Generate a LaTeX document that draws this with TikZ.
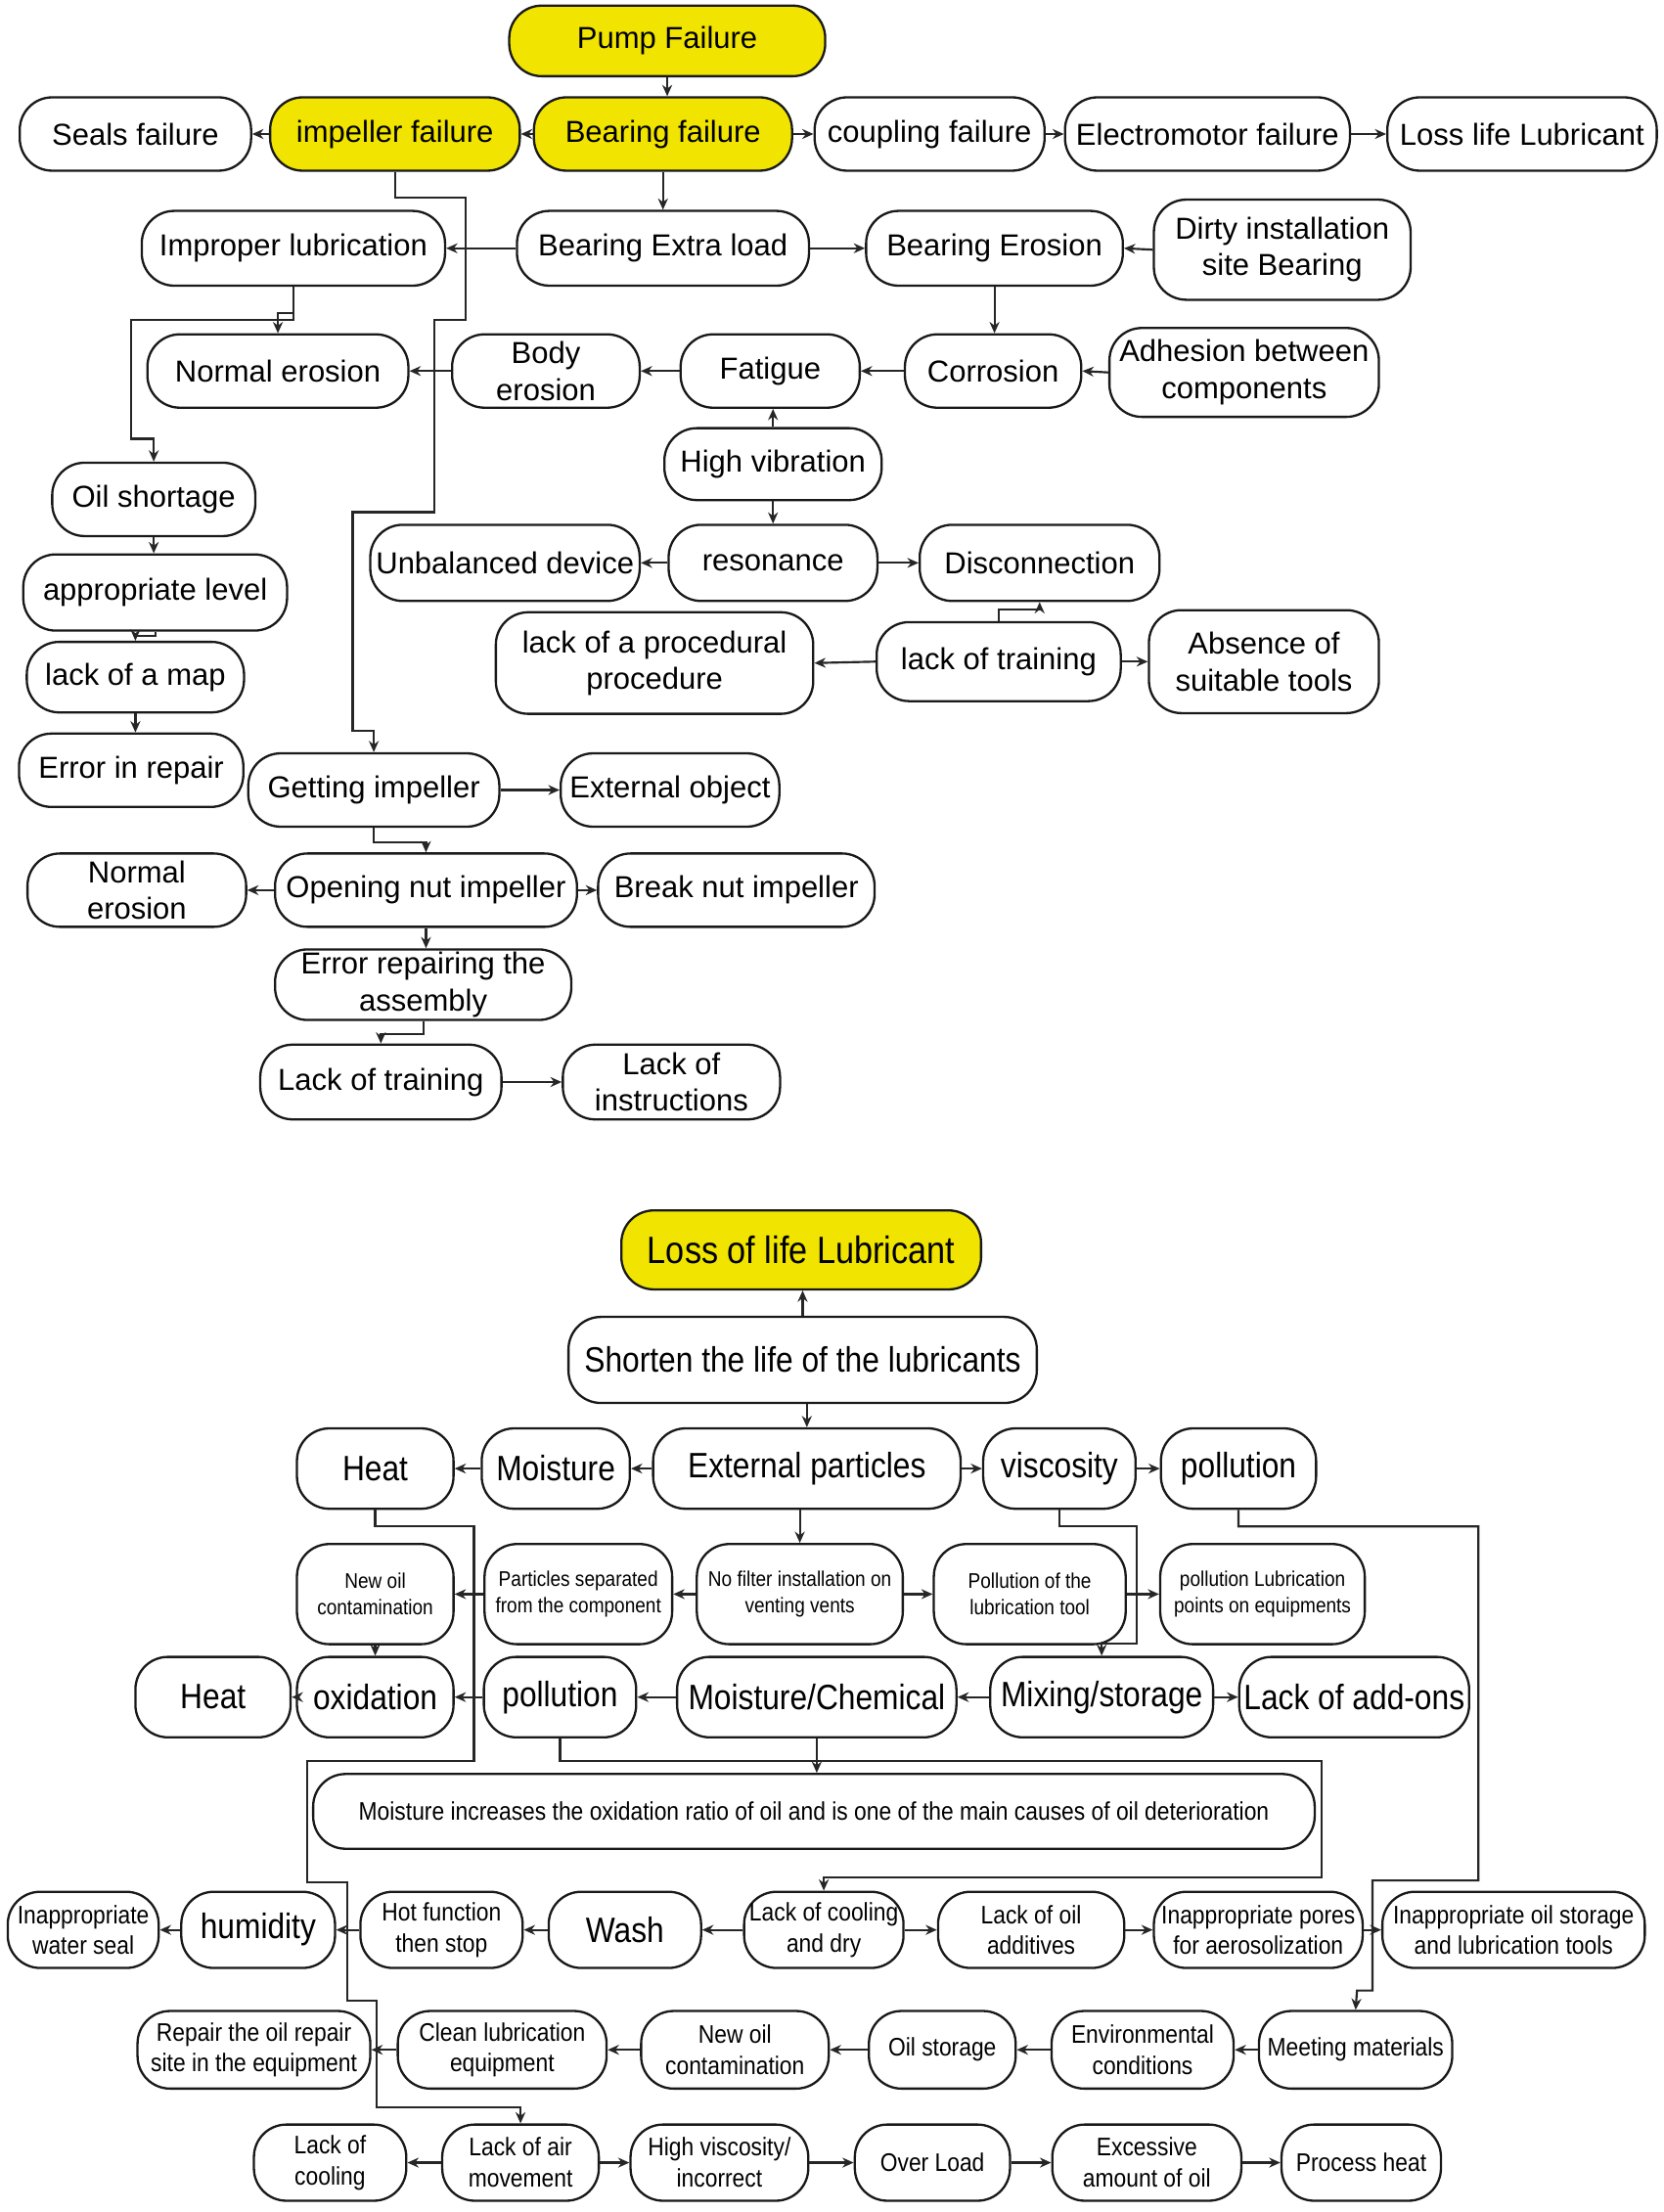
\documentclass[tikz,border=0pt]{standalone}
\usepackage{fontspec}
\setmainfont{Liberation Sans}
\newfontfamily\narrowfam[FakeStretch=0.88]{Liberation Sans}
\usetikzlibrary{arrows.meta}
\definecolor{pumpyellow}{RGB}{240,228,0}
\newcommand\ftTop{\fontsize{21.5}{26}\selectfont}
\newcommand\ftYel{\narrowfam\fontsize{27}{30}\selectfont}
\newcommand\ftBig{\narrowfam\fontsize{25}{28}\selectfont}
\newcommand\ftMid{\narrowfam\fontsize{18}{22}\selectfont}
\newcommand\ftSml{\narrowfam\fontsize{15}{19}\selectfont}
\tikzset{
  nd/.style={draw=black!90, line width=1.6pt, rounded corners=23pt, fill=white, inner sep=0pt},
  txt/.style={inner sep=0pt, align=center, text=black},
  ar/.style={draw=black!85, line width=1.5pt, -{Stealth[length=8pt,width=7pt]}},
}
\newcommand\bx[7]{%
  \node[nd, minimum width=#5pt, minimum height=#6pt] (#2) at (#3,#4) {};
  \node[txt, font=#1] (#2-t) at (#3,#4) {#7};}
\newcommand\ybx[7]{%
  \node[nd, fill=pumpyellow, minimum width=#5pt, minimum height=#6pt] (#2) at (#3,#4) {};
  \node[txt, font=#1] (#2-t) at (#3,#4) {#7};}
\begin{document}
\begin{tikzpicture}[x=1pt, y=-1pt]
\fill[white] (0,0) rectangle (1179,1568);
\useasboundingbox (0,0) rectangle (1179,1568);
% ---------------- top diagram ----------------
\ybx{\ftTop}{pump}{473}{29}{224}{50}{Pump Failure}
\bx{\ftTop}{seals}{96}{95}{164}{52}{Seals failure}
\ybx{\ftTop}{impf}{280}{95}{177}{52}{impeller failure}
\ybx{\ftTop}{bearf}{470}{95}{183}{52}{Bearing failure}
\bx{\ftTop}{coup}{659}{95}{163}{52}{coupling failure}
\bx{\ftTop}{elec}{856}{95}{202}{52}{Electromotor failure}
\bx{\ftTop}{llub}{1079}{95}{191}{52}{Loss life Lubricant}
\bx{\ftTop}{improper}{208}{176}{215}{53}{Improper lubrication}
\bx{\ftTop}{bextra}{470}{176}{207}{53}{Bearing Extra load}
\bx{\ftTop}{berosion}{705}{176}{182}{53}{Bearing Erosion}
\bx{\ftTop}{dirty}{909}{177}{182}{71}{Dirty installation\\site Bearing}
\bx{\ftTop}{normal1}{197}{263}{185}{52}{Normal erosion}
\bx{\ftTop}{body}{387}{263}{133}{52}{Body\\erosion}
\bx{\ftTop}{fatigue}{546}{263}{127}{52}{Fatigue}
\bx{\ftTop}{corrosion}{704}{263}{125}{52}{Corrosion}
\bx{\ftTop}{adhesion}{882}{264}{191}{63}{Adhesion between\\components}
\bx{\ftTop}{hvib}{548}{329}{154}{51}{High vibration}
\bx{\ftTop}{oilsh}{109}{354}{144}{52}{Oil shortage}
\bx{\ftTop}{unbal}{358}{399}{191}{54}{Unbalanced device}
\bx{\ftTop}{reson}{548}{399}{148}{54}{resonance}
\bx{\ftTop}{disc}{737}{399}{170}{54}{Disconnection}
\bx{\ftTop}{applev}{110}{420}{187}{54}{appropriate level}
\bx{\ftTop}{lproc}{464}{470}{225}{72}{lack of a procedural\\procedure}
\bx{\ftTop}{ltrain}{708}{469}{173}{56}{lack of training}
\bx{\ftTop}{absence}{896}{469}{163}{73}{Absence of\\suitable tools}
\bx{\ftTop}{lmap}{96}{480}{154}{50}{lack of a map}
\bx{\ftTop}{errrep}{93}{546}{159}{52}{Error in repair}
\bx{\ftTop}{getimp}{265}{560}{178}{52}{Getting impeller}
\bx{\ftTop}{extobj}{475}{560}{155}{52}{External object}
\bx{\ftTop}{normal2}{97}{631}{155}{52}{Normal\\erosion}
\bx{\ftTop}{opennut}{302}{631}{214}{52}{Opening nut impeller}
\bx{\ftTop}{breaknut}{522}{631}{196}{52}{Break nut impeller}
\bx{\ftTop}{errasm}{300}{698}{210}{50}{Error repairing the\\assembly}
\bx{\ftTop}{ltrain2}{270}{767}{171}{53}{Lack of training}
\bx{\ftTop}{linstr}{476}{767}{154}{53}{Lack of\\instructions}
% top connectors
\draw[ar] (pump.south) -- (pump.south |- bearf.north);
\draw[ar] (bearf.west) -- (impf.east);
\draw[ar] (impf.west) -- (seals.east);
\draw[ar] (bearf.east) -- (coup.west);
\draw[ar] (coup.east) -- (elec.west);
\draw[ar] (elec.east) -- (llub.west);
\draw[ar] (bearf.south) -- (bextra.north);
\draw[ar] (bextra.west) -- (improper.east);
\draw[ar] (bextra.east) -- (berosion.west);
\draw[ar] (dirty.west) -- (berosion.east);
\draw[ar] (berosion.south) -- (berosion.south |- corrosion.north);
\draw[ar] (adhesion.west) -- (corrosion.east);
\draw[ar] (corrosion.west) -- (fatigue.east);
\draw[ar] (fatigue.west) -- (body.east);
\draw[ar] (body.west) -- (normal1.east);
\draw[ar] (hvib.north) -- (hvib.north |- fatigue.south);
\draw[ar] (hvib.south) -- (hvib.south |- reson.north);
\draw[ar] (reson.west) -- (unbal.east);
\draw[ar] (reson.east) -- (disc.west);
\draw[ar] (ltrain.north) |- (737,432) -- (disc.south);
\draw[ar] (ltrain.west) -- (lproc.east);
\draw[ar] (ltrain.east) -- (absence.west);
\draw[ar] (impf.south) |- (330,140) |- (308,227) |- (250,363) |- (265,518) -- (getimp.north);
\draw[ar] (improper.south) |- (197,222) -- (normal1.north);
\draw[ar] (improper.south) |- (93,227) |- (109,311) -- (oilsh.north);
\draw[ar] (oilsh.south) -- (oilsh.south |- applev.north);
\draw[ar] (applev.south) |- (96,451) -- (lmap.north);
\draw[ar] (lmap.south) -- (lmap.south |- errrep.north);
\draw[ar] (getimp.east) -- (extobj.west);
\draw[ar] (getimp.south) |- (302,597) -- (opennut.north);
\draw[ar] (opennut.west) -- (normal2.east);
\draw[ar] (opennut.east) -- (breaknut.west);
\draw[ar] (opennut.south) -- (opennut.south |- errasm.north);
\draw[ar] (errasm.south) |- (270,733) -- (ltrain2.north);
\draw[ar] (ltrain2.east) -- (linstr.west);
% ---------------- bottom diagram ----------------
\ybx{\ftYel}{lossl}{568}{886}{255}{56}{Loss of life Lubricant}
\bx{\ftBig}{shorten}{569}{964}{332}{61}{Shorten the life of the lubricants}
\bx{\ftBig}{heat1}{266}{1041}{111}{57}{Heat}
\bx{\ftBig}{moist}{394}{1041}{105}{57}{Moisture}
\bx{\ftBig}{extp}{572}{1041}{218}{57}{External particles}
\bx{\ftBig}{visc}{751}{1041}{108}{57}{viscosity}
\bx{\ftBig}{poll1}{878}{1041}{110}{57}{pollution}
\bx{\ftSml}{newoil1}{266}{1130}{111}{71}{New oil\\contamination}
\bx{\ftSml}{partsep}{410}{1130}{133}{71}{Particles separated\\from the component}
\bx{\ftSml}{nofilter}{567}{1130}{146}{71}{No filter installation on\\venting vents}
\bx{\ftSml}{polltool}{730}{1130}{136}{71}{Pollution of the\\lubrication tool}
\bx{\ftSml}{pollpts}{895}{1130}{145}{71}{pollution Lubrication\\points on equipments}
\bx{\ftBig}{heat2}{151}{1203}{110}{57}{Heat}
\bx{\ftBig}{oxid}{266}{1203}{111}{57}{oxidation}
\bx{\ftBig}{poll2}{397}{1203}{108}{57}{pollution}
\bx{\ftBig}{moistchem}{579}{1203}{198}{57}{Moisture/Chemical}
\bx{\ftBig}{mixing}{781}{1203}{158}{57}{Mixing/storage}
\bx{\ftBig}{lackadd}{960}{1203}{163}{57}{Lack of add-ons}
\bx{\ftMid}{mbox}{577}{1284}{710}{53}{Moisture increases the oxidation ratio of oil and is one of the main causes of oil deterioration}
\bx{\ftMid}{iwseal}{59}{1368}{107}{54}{Inappropriate\\water seal}
\bx{\ftBig}{humid}{183}{1368}{109}{54}{humidity}
\bx{\ftMid}{hotf}{313}{1368}{115}{54}{Hot function\\then stop}
\bx{\ftBig}{wash}{443}{1368}{108}{54}{Wash}
\bx{\ftMid}{lcool}{584}{1368}{113}{54}{Lack of cooling\\and dry}
\bx{\ftMid}{loiladd}{731}{1368}{132}{54}{Lack of oil\\additives}
\bx{\ftMid}{ipores}{892}{1368}{148}{54}{Inappropriate pores\\for aerosolization}
\bx{\ftMid}{iostore}{1073}{1368}{186}{54}{Inappropriate oil storage\\and lubrication tools}
\bx{\ftMid}{repair}{180}{1453}{165}{55}{Repair the oil repair\\site in the equipment}
\bx{\ftMid}{clean}{356}{1453}{148}{55}{Clean lubrication\\equipment}
\bx{\ftMid}{newoil2}{521}{1453}{133}{55}{New oil\\contamination}
\bx{\ftMid}{oilst}{668}{1453}{104}{55}{Oil storage}
\bx{\ftMid}{envc}{810}{1453}{129}{55}{Environmental\\conditions}
\bx{\ftMid}{meeting}{961}{1453}{137}{55}{Meeting materials}
\bx{\ftMid}{lcooling}{234}{1533}{108}{54}{Lack of\\cooling}
\bx{\ftMid}{lackair}{369}{1533}{111}{54}{Lack of air\\movement}
\bx{\ftMid}{hvisc}{510}{1533}{126}{54}{High viscosity/\\incorrect}
\bx{\ftMid}{overload}{661}{1533}{110}{54}{Over Load}
\bx{\ftMid}{excess}{813}{1533}{134}{54}{Excessive\\amount of oil}
\bx{\ftMid}{pheat}{965}{1533}{113}{54}{Process heat}
% bottom connectors
\draw[ar] (shorten.north) -- (shorten.north |- lossl.south);
\draw[ar] (extp.north |- shorten.south) -- (extp.north);
\draw[ar] (extp.west) -- (moist.east);
\draw[ar] (moist.west) -- (heat1.east);
\draw[ar] (extp.east) -- (visc.west);
\draw[ar] (visc.east) -- (poll1.west);
\draw[ar] (nofilter.north |- extp.south) -- (nofilter.north);
\draw[ar] (nofilter.west) -- (partsep.east);
\draw[ar] (partsep.west) -- (newoil1.east);
\draw[ar] (nofilter.east) -- (polltool.west);
\draw[ar] (polltool.east) -- (pollpts.west);
\draw[ar] (newoil1.south) -- (oxid.north);
\draw[ar] (oxid.west) -- (heat2.east);
\draw[ar] (poll2.west) -- (oxid.east);
\draw[ar] (moistchem.west) -- (poll2.east);
\draw[ar] (mixing.west) -- (moistchem.east);
\draw[ar] (mixing.east) -- (lackadd.west);
\draw[ar] (visc.south) |- (806,1082) |- (781,1165) -- (mixing.north);
\draw[ar] (poll1.south) |- (1048,1082) |- (973,1333) |- (962,1411) -- (meeting.north);
\draw[ar] (heat1.south) |- (336,1082) |- (218,1248) |- (246,1334) |- (267,1418) |- (369,1494) -- (lackair.north);
\draw[ar] (poll2.south) |- (937,1248) |- (584,1331) -- (lcool.north);
\draw[ar] (moistchem.south) -- (moistchem.south |- mbox.north);
\draw[ar] (lcool.west) -- (wash.east);
\draw[ar] (wash.west) -- (hotf.east);
\draw[ar] (hotf.west) -- (humid.east);
\draw[ar] (humid.west) -- (iwseal.east);
\draw[ar] (lcool.east) -- (loiladd.west);
\draw[ar] (loiladd.east) -- (ipores.west);
\draw[ar] (ipores.east) -- (iostore.west);
\draw[ar] (meeting.west) -- (envc.east);
\draw[ar] (envc.west) -- (oilst.east);
\draw[ar] (oilst.west) -- (newoil2.east);
\draw[ar] (newoil2.west) -- (clean.east);
\draw[ar] (clean.west) -- (repair.east);
\draw[ar] (lackair.west) -- (lcooling.east);
\draw[ar] (lackair.east) -- (hvisc.west);
\draw[ar] (hvisc.east) -- (overload.west);
\draw[ar] (overload.east) -- (excess.west);
\draw[ar] (excess.east) -- (pheat.west);
\end{tikzpicture}
\end{document}
